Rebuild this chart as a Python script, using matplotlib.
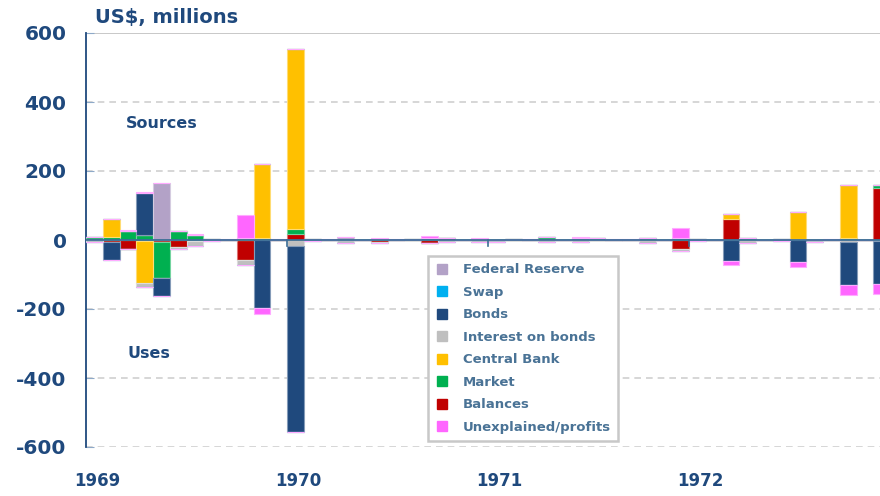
import numpy as np
import matplotlib
matplotlib.use("Agg")
import matplotlib.pyplot as plt
from matplotlib.lines import Line2D
from matplotlib.colors import to_rgb
import matplotlib.transforms as mtransforms

plt.rcParams["axes.unicode_minus"] = False

# monthly, Jan 1969 .. Dec 1972 (48 months), US$ millions
n_months = 48
years = ["1969", "1970", "1971", "1972"]
year_start_idx = [0, 12, 24, 36]


def monthly(d):
    a = np.zeros(n_months)
    for k, v in d.items():
        a[k] = v
    return a


fed_reserve = monthly({4: 164, 15: 8})
swap = monthly({})
bonds = monthly({1: -52, 3: 122, 4: -51, 10: -197, 12: -541, 38: -61, 42: -63, 45: -125, 47: -125})
interest = monthly({0: -6, 3: -13, 5: -7, 6: -14, 7: -3, 9: -14, 12: -16, 13: -2, 15: -9, 17: -3,
                    21: -6, 23: -5, 24: -5, 27: -6, 29: -5, 33: -8, 35: -4, 36: -3, 39: -8, 41: -4,
                    43: -6, 45: -5, 47: -3})
central_bank = monthly({1: 53, 3: -120, 9: 5, 10: 214, 12: 520, 38: 12, 42: 79, 45: 155})
market = monthly({0: 8, 1: 8, 2: 26, 3: 14, 4: -106, 5: 27, 6: 14, 7: 2, 10: 5, 12: 16, 13: 3,
                  17: 4, 19: 2, 20: 7, 23: 4, 25: 2, 27: 8, 29: 5, 30: 5, 33: 7, 35: 5, 36: 3,
                  39: 7, 41: 4, 42: 2, 45: 5, 47: 6})
balances = monthly({1: -5, 2: -27, 3: -4, 4: -5, 5: -20, 6: -3, 9: -59, 12: 17, 17: -5, 20: -9,
                    21: 5, 35: -27, 38: 62, 47: 152})
unexplained = monthly({2: 3, 3: 3, 6: 3, 8: 2, 9: 68, 10: -17, 11: 4, 14: 3, 17: 3, 18: 3, 20: 4,
                       21: 2, 23: 2, 26: 2, 29: 3, 31: 3, 32: 2, 35: 29, 38: -12, 42: -16, 44: 2,
                       45: -29, 47: -29})

series = {
    "Federal Reserve": (fed_reserve, "#B3A2C7"),
    "Swap": (swap, "#00B0F0"),
    "Bonds": (bonds, "#1F497D"),
    "Interest on bonds": (interest, "#BFBFBF"),
    "Central Bank": (central_bank, "#FFC000"),
    "Market": (market, "#00B050"),
    "Balances": (balances, "#C00000"),
    "Unexplained/profits": (unexplained, "#FF66FF"),
}
legend_order = list(series.keys())
# stacked outward from zero
stack_order = ["Balances", "Market", "Central Bank", "Interest on bonds", "Bonds", "Swap",
               "Federal Reserve", "Unexplained/profits"]

NAVY = "#1F497D"
fig = plt.figure(figsize=(8.8, 4.96), dpi=100)
ax = fig.add_axes([86 / 880, 1 - 447 / 496, 804 / 880, 414 / 496])

x = np.arange(n_months)
pos_b = np.zeros(n_months)
neg_b = np.zeros(n_months)
for name in stack_order:
    vals, col = series[name]
    edge = tuple(0.55 * np.array(to_rgb(col)) + 0.45)
    p = np.where(vals > 0, vals, 0)
    q = np.where(vals < 0, vals, 0)
    ax.bar(x, p, width=1.0, bottom=pos_b, color=col, edgecolor=edge, linewidth=0.8, zorder=3)
    ax.bar(x, q, width=1.0, bottom=neg_b, color=col, edgecolor=edge, linewidth=0.8, zorder=3)
    pos_b += p
    neg_b += q

ax.set_xlim(-0.5, n_months - 0.5)
ax.set_ylim(-600, 600)

# gridlines
for yv in [400, 200, -200, -400, -600]:
    ax.axhline(yv, color="#D0D0D0", lw=1.2, ls=(0, (4, 3)), zorder=1)
ax.axhline(600, color="#BFBFBF", lw=1.2, zorder=1)

# zero axis with ticks at year boundaries
ax.axhline(0, color="#3B6E96", lw=1.3, zorder=5)
for b in year_start_idx[1:]:
    ax.plot([b - 0.5, b - 0.5], [0, -16], color="#3B6E96", lw=1.2, zorder=5)

for s in ["top", "right", "bottom"]:
    ax.spines[s].set_visible(False)
ax.spines["left"].set_color(NAVY)
ax.spines["left"].set_linewidth(1.3)

ax.set_yticks([600, 400, 200, 0, -200, -400, -600])
ax.tick_params(axis="y", direction="in", length=6, color="#8EA9C8", pad=14,
               labelsize=14.5, labelcolor=NAVY)
for t in ax.get_yticklabels():
    t.set_fontweight("bold")
ax.set_xticks([])

trans = mtransforms.blended_transform_factory(ax.transData, fig.transFigure)
for yr, i in zip(years, year_start_idx):
    ax.text(i + 0.2, 1 - 481 / 496, yr, transform=trans, ha="center", va="center",
            fontsize=12, fontweight="bold", color=NAVY)

fig.text(95 / 880, 1 - 18 / 496, "US$, millions", ha="left", va="center",
         fontsize=14, fontweight="bold", color=NAVY)
ax.text(1.9, 337, "Sources", ha="left", va="center", fontsize=11.5, fontweight="bold", color=NAVY)
ax.text(1.95, -329, "Uses", ha="left", va="center", fontsize=11.5, fontweight="bold", color=NAVY)

handles = [Line2D([], [], marker="s", ls="none", markersize=6.5, color=series[n][1]) for n in legend_order]
leg = ax.legend(handles, legend_order, loc="upper left", bbox_to_anchor=(428 / 880, 1 - 256 / 496),
                bbox_transform=fig.transFigure, borderaxespad=0, frameon=True, fancybox=False,
                framealpha=1, edgecolor="#C8C8C8", prop={"size": 9.5, "weight": "bold"},
                labelspacing=0.72, handlelength=1.0, handletextpad=1.1, borderpad=0.55,
                labelcolor="#4A7396")
leg.get_frame().set_linewidth(1.8)
leg.set_zorder(10)

fig.savefig("out.png", dpi=100)
